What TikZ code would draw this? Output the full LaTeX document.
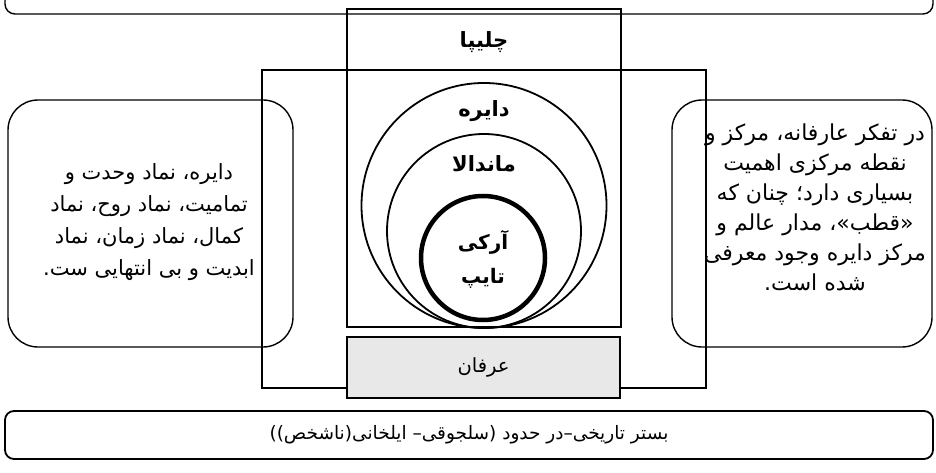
\documentclass[tikz,border=0pt]{standalone}
\usepackage{fontspec}
\newfontfamily\farsi[Script=Arabic]{DejaVu Sans}
\TeXXeTstate=1
\newcommand{\rtl}[1]{\beginR #1\endR}
\tikzset{
  frame/.style={draw, line width=1.4pt, inner sep=0pt},
  roundbox/.style={frame, rounded corners=30pt},
  ring/.style={draw, circle, line width=1.8pt, inner sep=0pt},
  title/.style={font=\farsi\bfseries\fontsize{21}{24}\selectfont},
  body/.style={font=\farsi\fontsize{22}{30}\selectfont, align=center}
}
\begin{document}
\begin{tikzpicture}[x=1pt,y=-1pt]
\useasboundingbox (0,0) rectangle (936,473);

% frames
\draw[frame, rounded corners=10pt] (5,-30) rectangle (933,14);
\node[frame, minimum width=444pt, minimum height=318pt] (wide) at (484,229) {};
\node[frame, minimum width=274pt, minimum height=318pt] (cross) at (484,168) {};
\node[frame, fill=gray!18, minimum width=273pt, minimum height=61pt] (erfan) at (483.5,367.5) {};
\node[roundbox, minimum width=285pt, minimum height=247pt] (leftbox) at (150.5,223.5) {};
\node[roundbox, minimum width=260pt, minimum height=247pt] (rightbox) at (802,223.5) {};
\node[frame, rounded corners=9pt, line width=1.8pt, minimum width=928pt, minimum height=48pt] (base) at (469,435) {};

% circles
\node[ring, minimum size=245pt] (daire) at (484,205.5) {};
\node[ring, minimum size=194pt] (mandala) at (484,231) {};
\node[ring, line width=4.5pt, minimum size=124pt] (arche) at (483,258) {};

% texts
\node[title] (chelipaT) at (484,42) {\rtl{چلیپا}};
\node[title] (daireT) at (484,111) {\rtl{دایره}};
\node[title] (mandalaT) at (484,164) {\rtl{ماندالا}};
\node[title, align=center, font=\farsi\bfseries\fontsize{20}{34}\selectfont] (archeT) at (483,259) {\rtl{آرکی}\\\rtl{تایپ}};
\node[body, font=\farsi\fontsize{19.5}{24}\selectfont] (erfanT) at (erfan) {\rtl{عرفان}};
\node[body, font=\farsi\fontsize{21}{32}\selectfont] (leftT) at (149,222) {\rtl{دایره، نماد وحدت و}\\\rtl{تمامیت، نماد روح، نماد}\\\rtl{کمال، نماد زمان، نماد}\\\rtl{ابدیت و بی انتهایی ست.}};
\node[body] (rightT) at (815,207) {\rtl{در تفکر عارفانه، مرکز و}\\\rtl{نقطه مرکزی اهمیت}\\\rtl{بسیاری دارد؛ چنان که}\\\rtl{«قطب»، مدار عالم و}\\\rtl{مرکز دایره وجود معرفی}\\\rtl{شده است.}};
\node[body, font=\farsi\fontsize{18.5}{24}\selectfont] (baseT) at (base) {\rtl{بستر تاریخی–در حدود (سلجوقی– ایلخانی(ناشخص))}};
\end{tikzpicture}
\end{document}
